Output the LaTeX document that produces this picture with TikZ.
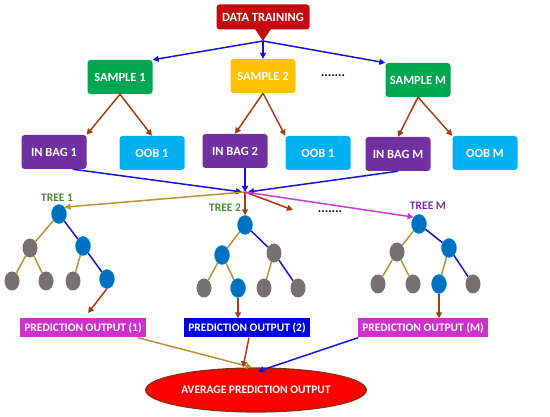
\documentclass[tikz,border=0pt]{standalone}
\usepackage{fontspec}
\setmainfont{Carlito}
\usepackage{tikz}
\usetikzlibrary{shapes.geometric}
\usetikzlibrary{arrows.meta}
\definecolor{dtred}{RGB}{200,8,16}
\definecolor{smgreen}{RGB}{0,166,80}
\definecolor{smyellow}{RGB}{255,192,0}
\definecolor{bagpurple}{RGB}{112,48,160}
\definecolor{oobcyan}{RGB}{0,176,240}
\definecolor{lnblue}{RGB}{20,20,215}
\definecolor{lnbrown}{RGB}{165,60,20}
\definecolor{lnolive}{RGB}{185,145,50}
\definecolor{lnmag}{RGB}{200,60,210}
\definecolor{nodeblue}{RGB}{0,112,192}
\definecolor{nodegray}{RGB}{118,113,113}
\definecolor{predmag}{RGB}{205,50,205}
\definecolor{predblue}{RGB}{0,0,225}
\definecolor{treegreen}{RGB}{75,135,55}

\tikzset{
  box/.style={rounded corners=3pt,minimum width=65pt,minimum height=34pt,text=white,font=\fontsize{12.5}{14}\selectfont\bfseries},
  predbox/.style={minimum height=19pt,inner xsep=4pt,text=white,font=\fontsize{11.5}{13}\selectfont\bfseries},
  tn/.style={ellipse,minimum width=15pt,minimum height=19pt,inner sep=0pt},
  bn/.style={tn,fill=nodeblue,draw=oobcyan!70!nodeblue,line width=0.4pt},
  gn/.style={tn,fill=nodegray},
  arr/.style={line width=1.5pt,-{Triangle[length=6pt,width=6pt]}},
  edg/.style={line width=1.5pt},
  lbl/.style={font=\fontsize{11.5}{13}\selectfont\bfseries},
  dots/.style={font=\fontsize{13}{13}\selectfont\bfseries}
}

\begin{document}
\begin{tikzpicture}[x=1pt,y=-1pt]
  \useasboundingbox (0,0) rectangle (550,417);

  % top
  \node[box,fill=dtred,minimum width=93pt,minimum height=25pt] (dt) at (263,17) {DATA TRAINING};
  \coordinate (split) at (263,41);
  \fill[dtred] (255,29) -- (271,29) -- (split) -- cycle;

  \node[box,fill=smgreen] (s1) at (120,77) {SAMPLE 1};
  \node[box,fill=smyellow] (s2) at (263,76) {SAMPLE 2};
  \node[box,fill=smgreen] (sm) at (418,80) {SAMPLE M};
  \node[dots] (d1) at (333,76) {.......};

  \draw[arr,lnblue] (split) -- (s1.north east);
  \draw[arr,lnblue] (split) -- (s2.north);
  \draw[arr,lnblue] (split) -- (sm.north west);

  \node[box,fill=bagpurple] (ib1) at (54,152) {IN BAG 1};
  \node[box,fill=oobcyan] (oob1) at (152,153) {OOB 1};
  \node[box,fill=bagpurple] (ib2) at (235,151) {IN BAG 2};
  \node[box,fill=oobcyan] (oob2) at (318,153) {OOB 1};
  \node[box,fill=bagpurple] (ibm) at (398,154) {IN BAG M};
  \node[box,fill=oobcyan] (oobm) at (485,153) {OOB M};

  \draw[arr,lnbrown] (s1.south) -- (ib1.north east);
  \draw[arr,lnbrown] (s1.south) -- (oob1.north);
  \draw[arr,lnbrown] (s2.south) -- (ib2.north);
  \draw[arr,lnbrown] (s2.south) -- (oob2.north west);
  \draw[arr,lnbrown] (sm.south) -- (ibm.north);
  \draw[arr,lnbrown] (sm.south) -- (oobm.north west);

  \coordinate (hub) at (245,192);
  \draw[arr,lnblue] (ib1.south east) ++(-14,0) coordinate (ib1b) (ib1b) -- ([xshift=-3pt]hub);
  \draw[arr,lnblue] (ib2.south) ++(10,0) coordinate (ib2b) (ib2b) -- (hub);
  \draw[arr,lnblue] (ibm.south) coordinate (ibmb) -- ([xshift=3pt]hub);

  % trees
  \node[lbl,text=treegreen] (t1) at (57,198) {TREE 1};
  \node[lbl,text=treegreen] (t2) at (225,208) {TREE 2};
  \node[lbl,text=bagpurple] (tm) at (428,206) {TREE M};
  \node[dots] (d2) at (330,212) {.......};
  \coordinate (redend) at (293,210);

  \node[bn] (r1) at (59,214) {};
  \node[gn] (a1) at (30,248) {};
  \node[bn] (b1) at (83,246) {};
  \node[gn] (a11) at (12,281) {};
  \node[gn] (a12) at (46,281) {};
  \node[gn] (b11) at (73,281) {};
  \node[bn] (b12) at (107,279) {};
  \draw[edg,lnolive] (r1) -- (a1);
  \draw[edg,lnblue] (r1) -- (b1);
  \draw[edg,lnolive] (a1) -- (a11);
  \draw[edg,lnolive] (a1) -- (a12);
  \draw[edg,lnolive] (b1) -- (b11);
  \draw[edg,lnblue] (b1) -- (b12);

  \node[bn] (r2) at (245,225) {};
  \node[bn] (a2) at (222,255) {};
  \node[gn] (b2) at (274,253) {};
  \node[gn] (a21) at (204,288) {};
  \node[bn] (a22) at (238,288) {};
  \node[gn] (b21) at (264,288) {};
  \node[gn] (b22) at (298,288) {};
  \draw[edg,lnolive] (r2) -- (a2);
  \draw[edg,lnblue] (r2) -- (b2);
  \draw[edg,lnolive] (a2) -- (a21);
  \draw[edg,lnolive] (a2) -- (a22);
  \draw[edg,lnolive] (b2) -- (b21);
  \draw[edg,lnblue] (b2) -- (b22);

  \node[bn] (rm) at (419,224) {};
  \node[gn] (am) at (397,252) {};
  \node[bn] (bm) at (449,248) {};
  \node[gn] (am1) at (378,284) {};
  \node[gn] (am2) at (413,284) {};
  \node[bn] (bm1) at (439,284) {};
  \node[gn] (bm2) at (473,284) {};
  \draw[edg,lnolive] (rm) -- (am);
  \draw[edg,lnblue] (rm) -- (bm);
  \draw[edg,lnolive] (am) -- (am1);
  \draw[edg,lnolive] (am) -- (am2);
  \draw[edg,lnolive] (bm) -- (bm1);
  \draw[edg,lnblue] (bm) -- (bm2);

  \draw[arr,lnolive] (hub) -- (r1.north east);
  \draw[arr,lnbrown] (hub) -- (r2.north);
  \draw[arr,lnbrown!80!red] (hub) -- (redend);
  \draw[arr,lnmag] (hub) -- (rm.north west);

  % outputs
  \node[predbox,fill=predmag] (p1) at (83,328) {PREDICTION OUTPUT (1)};
  \node[predbox,fill=predblue] (p2) at (247,328) {PREDICTION OUTPUT (2)};
  \node[predbox,fill=predmag] (pm) at (423,328) {PREDICTION OUTPUT (M)};

  \draw[arr,lnbrown] (b12.south) -- (88,313);
  \draw[arr,lnbrown] (a22.south) -- (p2.north -| a22);
  \draw[arr,lnbrown] (bm1.south) -- (pm.north -| bm1);

  \node[ellipse,fill=red,draw=lnbrown!80!black,line width=1.2pt,minimum width=199pt,minimum height=44pt,text=white,font=\fontsize{11.5}{13}\selectfont\bfseries] (avg) at (256,390) {AVERAGE PREDICTION OUTPUT};

  \draw[arr,lnolive] (p1.south east) ++(-8,0) coordinate (p1b) (p1b) -- ([xshift=-4pt]avg.north);
  \draw[arr,lnbrown] (p2.south) ++(2,0) coordinate (p2b) (p2b) -- ([xshift=-6pt]avg.north -| p2b);
  \draw[arr,lnblue] (pm.south west) -- ([xshift=2pt,yshift=-4pt]avg.north);
\end{tikzpicture}
\end{document}
